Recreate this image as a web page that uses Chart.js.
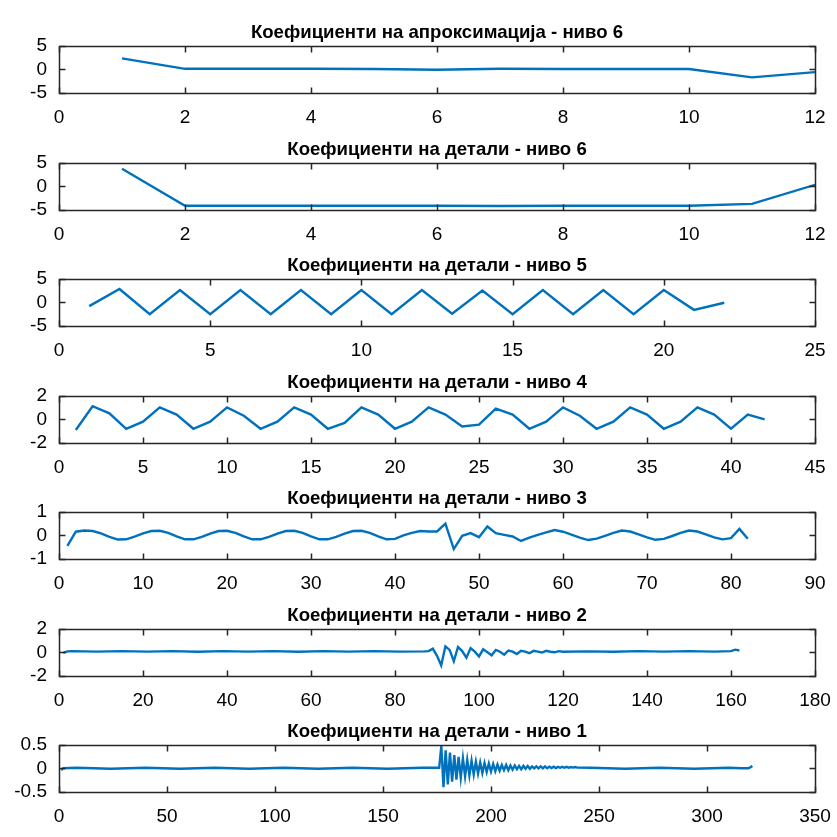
<!DOCTYPE html>
<html>
<head>
<meta charset="utf-8">
<script src="https://cdn.jsdelivr.net/npm/chart.js@4/dist/chart.umd.min.js"></script>
<style>
  html, body { margin: 0; padding: 0; background: #fff; overflow: hidden; }
  #wrap { position: relative; width: 837px; height: 837px; overflow: hidden; }
  .panel { position: absolute; left: 0; }
</style>
</head>
<body>
<div id="wrap"></div>
<script>
// naslovi na podgrafovite
const titles = [
  'Коефициенти на апроксимација - ниво 6',
  'Коефициенти на детали - ниво 6',
  'Коефициенти на детали - ниво 5',
  'Коефициенти на детали - ниво 4',
  'Коефициенти на детали - ниво 3',
  'Коефициенти на детали - ниво 2',
  'Коефициенти на детали - ниво 1'
];

// oski
const xMax  = [12, 12, 25, 45, 90, 180, 350];
const xStep = [2, 2, 5, 5, 10, 20, 50];
const yLim  = [5, 5, 5, 2, 1, 2, 0.5];
const yStep = [5, 5, 5, 2, 1, 2, 0.5];

// koeficienti (indeks 1..N)
const a6 = [2.3, 0.1, 0.1, 0.1, 0.05, -0.1, 0.1, 0.05, 0.05, 0.05, -1.7, -0.6];
const d6 = [3.7, -4.1, -4.1, -4.1, -4.1, -4.1, -4.15, -4.1, -4.1, -4.1, -3.7, 0.3];
const d5 = [-0.8, 2.8, -2.5, 2.6, -2.5, 2.6, -2.5, 2.6, -2.5, 2.6, -2.5, 2.6, -2.4, 2.5,
            -2.5, 2.6, -2.5, 2.6, -2.5, 2.6, -1.6, -0.1];
const d4 = [-0.9, 1.1, 0.5, -0.8, -0.2, 1.0, 0.4, -0.8, -0.2, 1.0, 0.3, -0.8, -0.2, 1.0,
            0.4, -0.8, -0.3, 1.0, 0.4, -0.8, -0.2, 1.0, 0.4, -0.6, -0.45, 0.9, 0.4, -0.8,
            -0.2, 1.0, 0.3, -0.8, -0.2, 1.0, 0.4, -0.8, -0.2, 1.0, 0.4, -0.8, 0.4, 0.0];
const d3 = [-0.45, 0.15, 0.2, 0.18, 0.08, -0.07, -0.18, -0.17, -0.06, 0.08,
            0.18, 0.19, 0.1, -0.05, -0.17, -0.17, -0.07, 0.07, 0.18, 0.19,
            0.1, -0.05, -0.17, -0.17, -0.07, 0.07, 0.18, 0.19, 0.1, -0.05,
            -0.17, -0.17, -0.07, 0.07, 0.18, 0.19, 0.1, -0.05, -0.17, -0.15,
            0.0, 0.1, 0.18, 0.16, 0.16, 0.49, -0.58, -0.02, 0.09, -0.08,
            0.37, 0.09, 0.02, -0.05, -0.24, -0.1, 0.02, 0.12, 0.22, 0.15,
            0.03, -0.1, -0.2, -0.14, -0.02, 0.1, 0.2, 0.16, 0.04, -0.09,
            -0.19, -0.15, -0.03, 0.1, 0.2, 0.16, 0.04, -0.09, -0.17, -0.12,
            0.27, -0.15];

// nivo 2 i 1: mirnite delovi se zemeni poretko
const d2x = [1, 2, 3, 9, 15, 21, 27, 33, 39, 45, 51, 57, 63, 69, 75, 81, 87,
             88, 89, 90, 91, 92, 93, 94, 95, 96, 97, 98, 99, 100, 101, 102, 103, 104,
             105, 106, 107, 108, 109, 110, 111, 112, 113, 114, 115, 116, 117, 118, 119, 120,
             126, 132, 138, 144, 150, 156, 160, 161, 162];
const d2y = [-0.05, 0.08, 0.1, 0.06, 0.1, 0.06, 0.1, 0.05, 0.1, 0.06, 0.1, 0.05, 0.1, 0.06, 0.1, 0.06, 0.08,
             0.1, 0.3, -0.3, -1.1, 0.5, 0.2, -0.75, 0.45, 0.1, -0.45, 0.35, 0.05, -0.35, 0.25, 0.0, -0.25, 0.2,
             0.05, -0.2, 0.15, 0.05, -0.15, 0.12, 0.05, -0.08, 0.12, 0.05, -0.02, 0.12, 0.05, 0.0, 0.1, 0.05,
             0.08, 0.05, 0.1, 0.06, 0.1, 0.06, 0.1, 0.22, 0.15];

const d1x = [1, 2, 8, 16, 24, 32, 40, 48, 56, 64, 72, 80, 88, 96, 104, 112, 120, 128, 136, 144,
             152, 160, 168, 174, 176,
             177, 178, 179, 180, 181, 182, 183, 184, 185, 186, 187, 188, 189, 190, 191, 192,
             193, 194, 195, 196, 197, 198, 199, 200, 201, 202, 203, 204, 205, 206, 207, 208,
             209, 210, 211, 212, 213, 214, 215, 216, 217, 218, 219, 220, 221, 222, 223, 224,
             225, 226, 227, 228, 229, 230, 231, 232, 233, 234, 235, 236, 237, 238, 239, 240,
             246, 254, 262, 270, 278, 286, 294, 302, 310, 316, 319, 320, 321];
const d1y = [-0.04, 0.0, 0.01, 0.0, -0.01, 0.0, 0.01, 0.0, -0.01, 0.0, 0.01, 0.0, -0.01, 0.0, 0.01, 0.0, -0.01, 0.0, 0.01, 0.0,
             -0.01, 0.0, 0.01, 0.01, 0.01,
             0.47, -0.40, 0.38, -0.34, 0.33, -0.28, 0.28, -0.24, 0.24, -0.20, 0.21, -0.17, 0.18, -0.15, 0.16, -0.13,
             0.14, -0.11, 0.12, -0.10, 0.11, -0.08, 0.10, -0.07, 0.09, -0.06, 0.08, -0.05, 0.07, -0.04, 0.07, -0.04,
             0.06, -0.03, 0.06, -0.02, 0.05, -0.02, 0.05, -0.01, 0.05, -0.01, 0.04, 0.0, 0.04, 0.0, 0.04, 0.0,
             0.04, 0.0, 0.035, 0.005, 0.035, 0.005, 0.03, 0.01, 0.03, 0.01, 0.03, 0.01, 0.025, 0.015, 0.025, 0.015,
             0.01, 0.0, -0.01, 0.0, 0.01, 0.0, -0.01, 0.0, 0.01, 0.0, 0.0, 0.02, 0.05];

const LINE = '#0072BD';
const AXIS = '#262626';
const FONT = "'Liberation Sans', Arial, sans-serif";

function byIndex(ys) {
  return ys.map(function(v, i) { return { x: i + 1, y: v }; });
}
function byPairs(xs, ys) {
  return xs.map(function(v, i) { return { x: v, y: ys[i] }; });
}

const series = [
  byIndex(a6), byIndex(d6), byIndex(d5), byIndex(d4), byIndex(d3),
  byPairs(d2x, d2y), byPairs(d1x, d1y)
];

// MATLAB-ska ramka so crticki navnatre
const boxPlugin = {
  id: 'matlabBox',
  afterDatasetsDraw(chart) {
    const ctx = chart.ctx, a = chart.chartArea;
    const xs = chart.scales.x, ys = chart.scales.y;
    const L = Math.round(a.left) + 0.5, R = Math.round(a.right) + 0.5;
    const T = Math.round(a.top) + 0.5, B = Math.round(a.bottom) + 0.5;
    ctx.save();
    ctx.strokeStyle = AXIS;
    ctx.lineWidth = 1.5;
    ctx.strokeRect(L, T, R - L, B - T);
    ctx.beginPath();
    xs.ticks.forEach(function(t) {
      const p = Math.round(xs.getPixelForValue(t.value)) + 0.5;
      ctx.moveTo(p, B); ctx.lineTo(p, B - 6);
      ctx.moveTo(p, T); ctx.lineTo(p, T + 6);
    });
    ys.ticks.forEach(function(t) {
      const p = Math.round(ys.getPixelForValue(t.value)) + 0.5;
      ctx.moveTo(L, p); ctx.lineTo(L + 6, p);
      ctx.moveTo(R, p); ctx.lineTo(R - 6, p);
    });
    ctx.stroke();
    ctx.restore();
  }
};

const wrap = document.getElementById('wrap');

for (let k = 0; k < 7; k++) {
  const div = document.createElement('div');
  div.className = 'panel';
  div.style.top = Math.round(19 + k * 116.5) + 'px';
  const canvas = document.createElement('canvas');
  canvas.width = 874;
  canvas.height = 110;
  canvas.style.width = '874px';
  canvas.style.height = '110px';
  div.appendChild(canvas);
  wrap.appendChild(div);

  new Chart(canvas, {
    type: 'line',
    data: {
      datasets: [{
        data: series[k],
        borderColor: LINE,
        borderWidth: 2.4,
        pointRadius: 0,
        tension: 0,
        fill: false
      }]
    },
    plugins: [boxPlugin],
    options: {
      responsive: false,
      animation: false,
      events: [],
      layout: { padding: { top: 3, right: 0, left: 0, bottom: 0 } },
      plugins: {
        legend: { display: false },
        tooltip: { enabled: false },
        title: {
          display: true,
          text: titles[k],
          color: '#000',
          font: { family: FONT, size: 18.6, weight: 'bold', lineHeight: 1.16 },
          padding: { top: 0, bottom: 2 }
        }
      },
      scales: {
        x: {
          type: 'linear',
          min: 0,
          max: xMax[k],
          grid: { display: false, drawTicks: false },
          border: { display: false },
          ticks: {
            stepSize: xStep[k],
            color: '#000',
            padding: 13,
            maxRotation: 0,
            autoSkip: false,
            font: { family: FONT, size: 19 }
          },
          afterFit: function(s) { s.height = 36; }
        },
        y: {
          type: 'linear',
          min: -yLim[k],
          max: yLim[k],
          grid: { display: false, drawTicks: false },
          border: { display: false },
          ticks: {
            stepSize: yStep[k],
            color: '#000',
            padding: 12,
            autoSkip: false,
            font: { family: FONT, size: 19 }
          },
          afterFit: function(s) { s.width = 59; }
        },
        // prazna desna oska, za naslovot da bide centriran nad ramkata
        y2: {
          type: 'linear',
          position: 'right',
          grid: { display: false, drawTicks: false },
          border: { display: false },
          ticks: { display: false },
          afterFit: function(s) { s.width = 59; }
        }
      }
    }
  });
}
</script>
</body>
</html>
